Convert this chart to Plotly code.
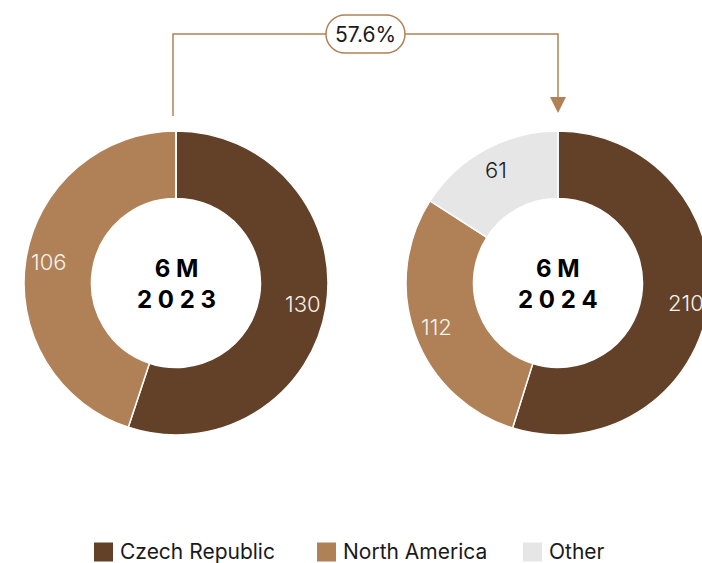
import math
import plotly.graph_objects as go

# Sales split by region, first half of each year
categories = ["Czech Republic", "North America", "Other"]
colors = ["#634128", "#B08157", "#E6E6E6"]
values_2023 = [130, 106, 0]
values_2024 = [210, 112, 61]
period = "6M"
years = ["2023", "2024"]
growth_label = "57.6%"

FONT = "Inter"
W, H = 712, 563          # canvas is a touch wider than the window; right ring runs off the edge
R_OUT, R_IN = 152, 84.5  # ring radii in px
CENTERS = [(176, 283), (558, 283)]
LABEL_R = 129            # radius of the value labels inside the ring
ACCENT = "#B08157"


def px(x):
    return x / W


def py(y):
    return 1 - y / H


fig = go.Figure()
annotations = []

for (cx, cy), vals, year in zip(CENTERS, [values_2023, values_2024], years):
    fig.add_trace(go.Pie(
        labels=categories,
        values=vals,
        marker=dict(colors=colors, line=dict(color="white", width=1.5)),
        hole=R_IN / R_OUT,
        sort=False,
        direction="clockwise",
        rotation=0,
        textinfo="none",
        hoverinfo="label+value",
        showlegend=False,
        domain=dict(x=[px(cx - R_OUT), px(cx + R_OUT)],
                    y=[py(cy + R_OUT), py(cy - R_OUT)]),
    ))

    # value labels, placed at each slice's mid-angle
    total = sum(vals)
    acc = 0
    for cat, v, col in zip(categories, vals, colors):
        if v <= 0:
            continue
        mid = (acc + v / 2) / total * 2 * math.pi
        acc += v
        lx = cx + LABEL_R * math.sin(mid)
        ly = cy - LABEL_R * math.cos(mid)
        txt_col = "#1a1a1a" if col == "#E6E6E6" else "#F7F2EC"
        annotations.append(dict(
            x=px(lx), y=py(ly), xref="paper", yref="paper",
            text=str(v), showarrow=False,
            font=dict(family=FONT, size=22, color=txt_col, weight=300),
            xanchor="center", yanchor="middle",
        ))

    # centre caption, letter-spaced
    sp = " "
    caption = "<b>" + sp.join(period) + "</b><br><b>" + sp.join(year) + "</b>"
    annotations.append(dict(
        x=px(cx), y=py(cy + 1), xref="paper", yref="paper",
        text=caption, showarrow=False,
        font=dict(family=FONT, size=24, color="#000000"),
        xanchor="center", yanchor="middle",
    ))

shapes = []

# growth connector from the 2023 ring to the 2024 ring
x0, x1 = 173, 558
y_top, y_start, y_tip = 34, 116, 113
shapes.append(dict(
    type="path", xref="paper", yref="paper",
    path=f"M{px(x0)},{py(y_start)} V{py(y_top)} H{px(x1)} V{py(y_tip - 14)}",
    line=dict(color=ACCENT, width=1.5), fillcolor="rgba(0,0,0,0)",
))
shapes.append(dict(
    type="path", xref="paper", yref="paper",
    path=f"M{px(x1 - 8)},{py(y_tip - 16)} L{px(x1 + 8)},{py(y_tip - 16)} L{px(x1)},{py(y_tip)} Z",
    line=dict(color=ACCENT, width=0), fillcolor=ACCENT,
))

# pill around the growth figure
bx0, bx1, by0, by1 = 326, 405, 15, 53
r = (by1 - by0) / 2
k = 0.5523 * r
pill = (
    f"M{px(bx0 + r)},{py(by0)} H{px(bx1 - r)} "
    f"C{px(bx1 - r + k)},{py(by0)} {px(bx1)},{py(by0 + r - k)} {px(bx1)},{py(by0 + r)} "
    f"C{px(bx1)},{py(by0 + r + k)} {px(bx1 - r + k)},{py(by1)} {px(bx1 - r)},{py(by1)} "
    f"H{px(bx0 + r)} "
    f"C{px(bx0 + r - k)},{py(by1)} {px(bx0)},{py(by1 - r + k)} {px(bx0)},{py(by1 - r)} "
    f"C{px(bx0)},{py(by0 + r - k)} {px(bx0 + r - k)},{py(by0)} {px(bx0 + r)},{py(by0)} Z"
)
shapes.append(dict(
    type="path", xref="paper", yref="paper", path=pill,
    line=dict(color=ACCENT, width=1.5), fillcolor="white",
))
annotations.append(dict(
    x=px((bx0 + bx1) / 2), y=py((by0 + by1) / 2), xref="paper", yref="paper",
    text=growth_label, showarrow=False,
    font=dict(family=FONT, size=21, color="#1a1a1a"),
    xanchor="center", yanchor="middle",
))

# legend row
legend_x = [94, 317, 523]
legend_y = 552
sq = 19
for cat, col, lx in zip(categories, colors, legend_x):
    shapes.append(dict(
        type="rect", xref="paper", yref="paper",
        x0=px(lx), x1=px(lx + sq), y0=py(legend_y + sq / 2), y1=py(legend_y - sq / 2),
        line=dict(width=0), fillcolor=col,
    ))
    annotations.append(dict(
        x=px(lx + sq + 5), y=py(legend_y - 1), xref="paper", yref="paper",
        text=cat, showarrow=False,
        font=dict(family=FONT, size=21, color="#1a1a1a"),
        xanchor="left", yanchor="middle",
    ))

fig.update_layout(
    width=W, height=H, autosize=False,
    margin=dict(l=0, r=0, t=0, b=0),
    paper_bgcolor="white", plot_bgcolor="white",
    shapes=shapes, annotations=annotations,
    font=dict(family=FONT),
)

fig.write_html("out.html", post_script="document.body.style.overflow='hidden';")
